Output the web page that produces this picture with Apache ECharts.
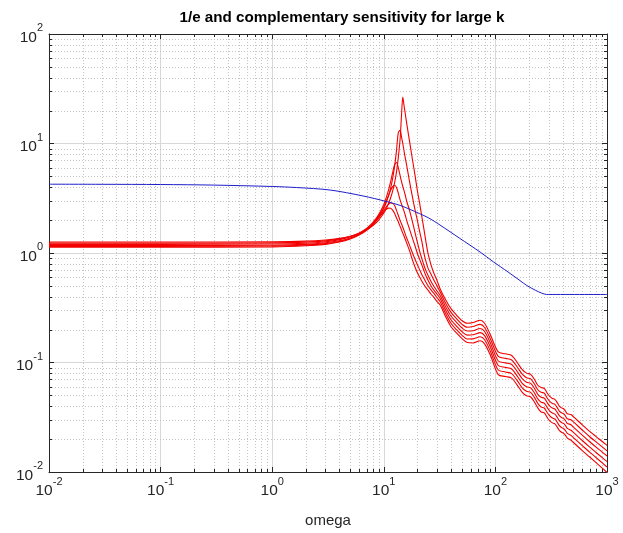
<!DOCTYPE html>
<html>
<head>
<meta charset="utf-8">
<script src="https://cdn.jsdelivr.net/npm/echarts@6/dist/echarts.min.js"></script>
<style>
html,body{margin:0;padding:0;background:#fff;}
#chart{width:623px;height:533px;}
</style>
</head>
<body>
<div id="chart"></div>
<script>
// ---- data ----
const TITLE = '1/e and complementary sensitivity for large k';
const X_NAME = 'omega';
const X_TICKS = [0.01, 0.1, 1, 10, 100, 1000];
const Y_TICKS = [0.01, 0.1, 1, 10, 100];

// frequency grid shared by the red curves
const W = [0.01, 0.1, 1, 2, 3, 4, 5, 6, 7, 8, 9, 10, 10.5, 11, 11.5, 12, 12.5, 13, 13.5, 14,
  14.4, 14.8, 15.2, 15.6, 16, 17, 18, 19, 20, 21, 22, 23, 24, 25, 26.5, 28, 30, 32, 36, 40,
  45, 50, 56, 63, 73, 80, 90, 106, 123, 140, 157, 174, 190, 207, 224, 240, 257, 274, 290, 307,
  324, 341, 358, 374, 391, 408, 425, 441, 475, 500, 600, 700, 850, 1000];

// complementary sensitivity curves (red)
const T1 = [1.26, 1.26, 1.266, 1.283, 1.314, 1.359, 1.422, 1.508, 1.623, 1.78, 2.0, 2.32, 2.54, 2.82, 3.18, 3.68, 4.39, 5.51, 7.5, 11.0,
  17.8, 26.5, 22, 18.5, 15.5, 10.5, 7.3, 5.2, 3.7, 2.8, 2.1, 1.6, 1.22, 0.97, 0.78, 0.66, 0.56, 0.47, 0.37, 0.31,
  0.27, 0.242, 0.228, 0.232, 0.243, 0.228, 0.18, 0.125, 0.12, 0.116, 0.1, 0.086, 0.08, 0.078, 0.07, 0.062, 0.059, 0.058, 0.053, 0.049,
  0.047, 0.046, 0.043, 0.040, 0.0385, 0.0378, 0.036, 0.034, 0.0335, 0.032, 0.027, 0.0235, 0.02, 0.0175];
const T2 = [1.23, 1.23, 1.236, 1.256, 1.291, 1.343, 1.416, 1.517, 1.656, 1.852, 2.14, 2.565, 2.88, 3.31, 3.9, 4.79, 6.22, 8.66, 12.6, 13.2,
  11.5, 10, 8.5, 7.3, 6.4, 4.5, 3.3, 2.5, 1.98, 1.55, 1.25, 0.97, 0.82, 0.72, 0.64, 0.57, 0.5, 0.44, 0.344, 0.287,
  0.25, 0.224, 0.21, 0.213, 0.223, 0.209, 0.165, 0.1136, 0.109, 0.1055, 0.0909, 0.0782, 0.0727, 0.0709, 0.0636, 0.0564, 0.0534, 0.0525, 0.0477, 0.0441,
  0.0423, 0.0414, 0.0387, 0.036, 0.0347, 0.0341, 0.0324, 0.0306, 0.030, 0.0287, 0.0242, 0.021, 0.0179, 0.0156];
const T3 = [1.2, 1.2, 1.207, 1.229, 1.268, 1.325, 1.408, 1.517, 1.675, 1.90, 2.24, 2.78, 3.19, 3.73, 4.46, 5.41, 6.39, 6.7, 6.0, 5.1,
  4.5, 4.05, 3.7, 3.35, 3.0, 2.45, 1.95, 1.55, 1.25, 1.03, 0.88, 0.76, 0.68, 0.62, 0.55, 0.5, 0.45, 0.41, 0.32, 0.266,
  0.2316, 0.2075, 0.1937, 0.1953, 0.2045, 0.1919, 0.1515, 0.1033, 0.0992, 0.0959, 0.0826, 0.0711, 0.0661, 0.0645, 0.0579, 0.0512, 0.0482, 0.0473, 0.0433, 0.040,
  0.0384, 0.0376, 0.0351, 0.0327, 0.0314, 0.0309, 0.0294, 0.0278, 0.027, 0.0257, 0.0217, 0.0189, 0.016, 0.014];
const T4 = [1.17, 1.17, 1.177, 1.2, 1.239, 1.292, 1.373, 1.484, 1.639, 1.859, 2.18, 2.65, 2.97, 3.33, 3.72, 4.04, 4.15, 3.96, 3.5, 3.05,
  2.8, 2.6, 2.4, 2.2, 2.0, 1.65, 1.38, 1.17, 0.99, 0.87, 0.77, 0.68, 0.61, 0.56, 0.5, 0.46, 0.42, 0.384, 0.298, 0.246,
  0.214, 0.192, 0.178, 0.179, 0.1876, 0.176, 0.139, 0.0939, 0.0902, 0.0872, 0.0751, 0.0646, 0.0601, 0.0586, 0.0526, 0.0466, 0.0434, 0.0426, 0.039, 0.036,
  0.0346, 0.0338, 0.0316, 0.0294, 0.0283, 0.0278, 0.0265, 0.025, 0.0241, 0.023, 0.0194, 0.0169, 0.0143, 0.01245];
const T5 = [1.15, 1.15, 1.158, 1.182, 1.217, 1.274, 1.355, 1.466, 1.618, 1.825, 2.1, 2.45, 2.63, 2.78, 2.86, 2.84, 2.72, 2.45, 2.2, 1.98,
  1.85, 1.72, 1.6, 1.48, 1.38, 1.18, 1.01, 0.88, 0.78, 0.7, 0.63, 0.58, 0.535, 0.5, 0.46, 0.43, 0.39, 0.358, 0.277, 0.228,
  0.1985, 0.178, 0.164, 0.1643, 0.1721, 0.1615, 0.1275, 0.0854, 0.082, 0.0792, 0.0683, 0.0587, 0.0546, 0.0533, 0.0478, 0.0423, 0.0391, 0.0384, 0.0351, 0.0325,
  0.0311, 0.0305, 0.0285, 0.0265, 0.0255, 0.025, 0.0238, 0.0225, 0.0216, 0.0206, 0.0174, 0.0152, 0.0128, 0.0111];
const T6 = [1.13, 1.13, 1.138, 1.163, 1.199, 1.258, 1.341, 1.456, 1.612, 1.821, 2.09, 2.38, 2.5, 2.57, 2.56, 2.46, 2.3, 2.09, 1.92, 1.75,
  1.63, 1.52, 1.42, 1.33, 1.24, 1.05, 0.87, 0.75, 0.66, 0.6, 0.55, 0.51, 0.48, 0.455, 0.42, 0.395, 0.36, 0.335, 0.259, 0.212,
  0.185, 0.166, 0.152, 0.1507, 0.1579, 0.1481, 0.117, 0.0776, 0.0745, 0.072, 0.0621, 0.0534, 0.0497, 0.0484, 0.0435, 0.0385, 0.0353, 0.0347, 0.0317, 0.0293,
  0.0281, 0.0275, 0.0257, 0.024, 0.0231, 0.0226, 0.0216, 0.0204, 0.0195, 0.0186, 0.0157, 0.0137, 0.0115, 0.0099];

// 1/e curve (blue)
const BLUE_W = [0.01, 0.03, 0.1, 0.3, 1, 1.66, 3.3, 6.5, 10.6, 14, 17.2, 25, 31.9, 48, 73, 96, 130, 166, 191, 230, 260, 288, 300, 1000];
const BLUE_V = [4.25, 4.24, 4.22, 4.17, 4.05, 3.96, 3.76, 3.32, 2.95, 2.72, 2.5, 2.1, 1.8, 1.36, 1.02, 0.83, 0.67, 0.56, 0.505, 0.455, 0.43, 0.418, 0.418, 0.418];

const RED_SERIES = [T1, T2, T3, T4, T5, T6];

// ---- chart ----
const XMIN = 0.01, XMAX = 1000, YMIN = 0.01, YMAX = 100;
const AXIS_COLOR = '#262626';
const FONT = '"Liberation Sans", Arial, Helvetica, sans-serif';

function pairs(xs, ys) { return xs.map((x, i) => [x, ys[i]]); }

function powLabel(v) {
  const e = Math.round(Math.log10(v));
  return '{b|10}{e|' + e + '}';
}
const richLabel = {
  b: { fontSize: 15.5, fontFamily: FONT, color: AXIS_COLOR, lineHeight: 23, verticalAlign: 'bottom' },
  e: { fontSize: 11, fontFamily: FONT, color: AXIS_COLOR, lineHeight: 13, verticalAlign: 'top' }
};

// minor grid values 2..9 x 10^k
function minorVals(lo, hi) {
  const out = [];
  for (let k = Math.round(Math.log10(lo)); k < Math.round(Math.log10(hi)); k++) {
    for (let m = 2; m <= 9; m++) out.push(m * Math.pow(10, k));
  }
  return out;
}
const minorData = [];
minorVals(XMIN, XMAX).forEach(v => minorData.push([v, 1, 0]));
minorVals(YMIN, YMAX).forEach(v => minorData.push([1, v, 1]));

function renderMinor(params, api) {
  const kind = api.value(2);
  const dot = { stroke: '#c4c4c4', lineWidth: 1, lineDash: [1, 2] };
  const tick = { stroke: AXIS_COLOR, lineWidth: 1 };
  if (kind === 0) {
    const v = api.value(0);
    const p1 = api.coord([v, YMIN]), p2 = api.coord([v, YMAX]);
    const x = Math.round(p1[0]) + 0.5;
    return { type: 'group', children: [
      { type: 'line', shape: { x1: x, y1: p1[1], x2: x, y2: p2[1] }, style: dot, silent: true },
      { type: 'line', shape: { x1: x, y1: p1[1], x2: x, y2: p1[1] - 3 }, style: tick, silent: true },
      { type: 'line', shape: { x1: x, y1: p2[1], x2: x, y2: p2[1] + 3 }, style: tick, silent: true }
    ]};
  } else {
    const v = api.value(1);
    const p1 = api.coord([XMIN, v]), p2 = api.coord([XMAX, v]);
    const y = Math.round(p1[1]) + 0.5;
    return { type: 'group', children: [
      { type: 'line', shape: { x1: p1[0], y1: y, x2: p2[0], y2: y }, style: dot, silent: true },
      { type: 'line', shape: { x1: p1[0], y1: y, x2: p1[0] + 3, y2: y }, style: tick, silent: true },
      { type: 'line', shape: { x1: p2[0], y1: y, x2: p2[0] - 3, y2: y }, style: tick, silent: true }
    ]};
  }
}

const baseAxis = {
  type: 'log', logBase: 10,
  axisLine: { show: true, onZero: false, lineStyle: { color: AXIS_COLOR, width: 1 } },
  axisTick: { show: true, inside: true, length: 5, lineStyle: { color: AXIS_COLOR } },
  minorTick: { show: false },
  minorSplitLine: { show: false }
};

const series = [{
  type: 'custom', renderItem: renderMinor, data: minorData, z: 1, silent: true,
  xAxisIndex: 0, yAxisIndex: 0, encode: { x: 0, y: 1 }, animation: false
}];
RED_SERIES.forEach(arr => {
  series.push({
    type: 'line', data: pairs(W, arr), showSymbol: false, symbol: 'none',
    smooth: 0.3, lineStyle: { color: '#f20000', width: 1.1 }, z: 3, animation: false
  });
});
series.push({
  type: 'line', data: pairs(BLUE_W, BLUE_V), showSymbol: false, symbol: 'none',
  smooth: 0.3, lineStyle: { color: '#1e1ec8', width: 1 }, z: 4, animation: false
});

const option = {
  backgroundColor: '#ffffff',
  animation: false,
  title: {
    text: TITLE, left: 337, top: 5, textAlign: 'center',
    textStyle: { fontFamily: FONT, fontSize: 15.2, fontWeight: 'bold', color: '#000' }
  },
  grid: { left: 49, right: 16, top: 34, bottom: 59, containLabel: false },
  xAxis: [
    Object.assign({}, baseAxis, {
      min: XMIN, max: XMAX, position: 'bottom',
      axisLabel: { formatter: powLabel, rich: richLabel, margin: 4 },
      splitLine: { show: true, lineStyle: { color: '#d8d8d8', width: 1 } },
      name: X_NAME, nameLocation: 'middle', nameGap: 41,
      nameTextStyle: { fontFamily: FONT, fontSize: 15, color: AXIS_COLOR }
    }),
    Object.assign({}, baseAxis, {
      min: XMIN, max: XMAX, position: 'top',
      axisLabel: { show: false }, splitLine: { show: false }
    })
  ],
  yAxis: [
    Object.assign({}, baseAxis, {
      min: YMIN, max: YMAX, position: 'left',
      axisLabel: { formatter: powLabel, rich: richLabel, margin: 6 },
      splitLine: { show: true, lineStyle: { color: '#d8d8d8', width: 1 } }
    }),
    Object.assign({}, baseAxis, {
      min: YMIN, max: YMAX, position: 'right',
      axisLabel: { show: false }, splitLine: { show: false }
    })
  ],
  series: series
};

const chart = echarts.init(document.getElementById('chart'), null, { renderer: 'canvas' });
chart.setOption(option);
</script>
</body>
</html>
